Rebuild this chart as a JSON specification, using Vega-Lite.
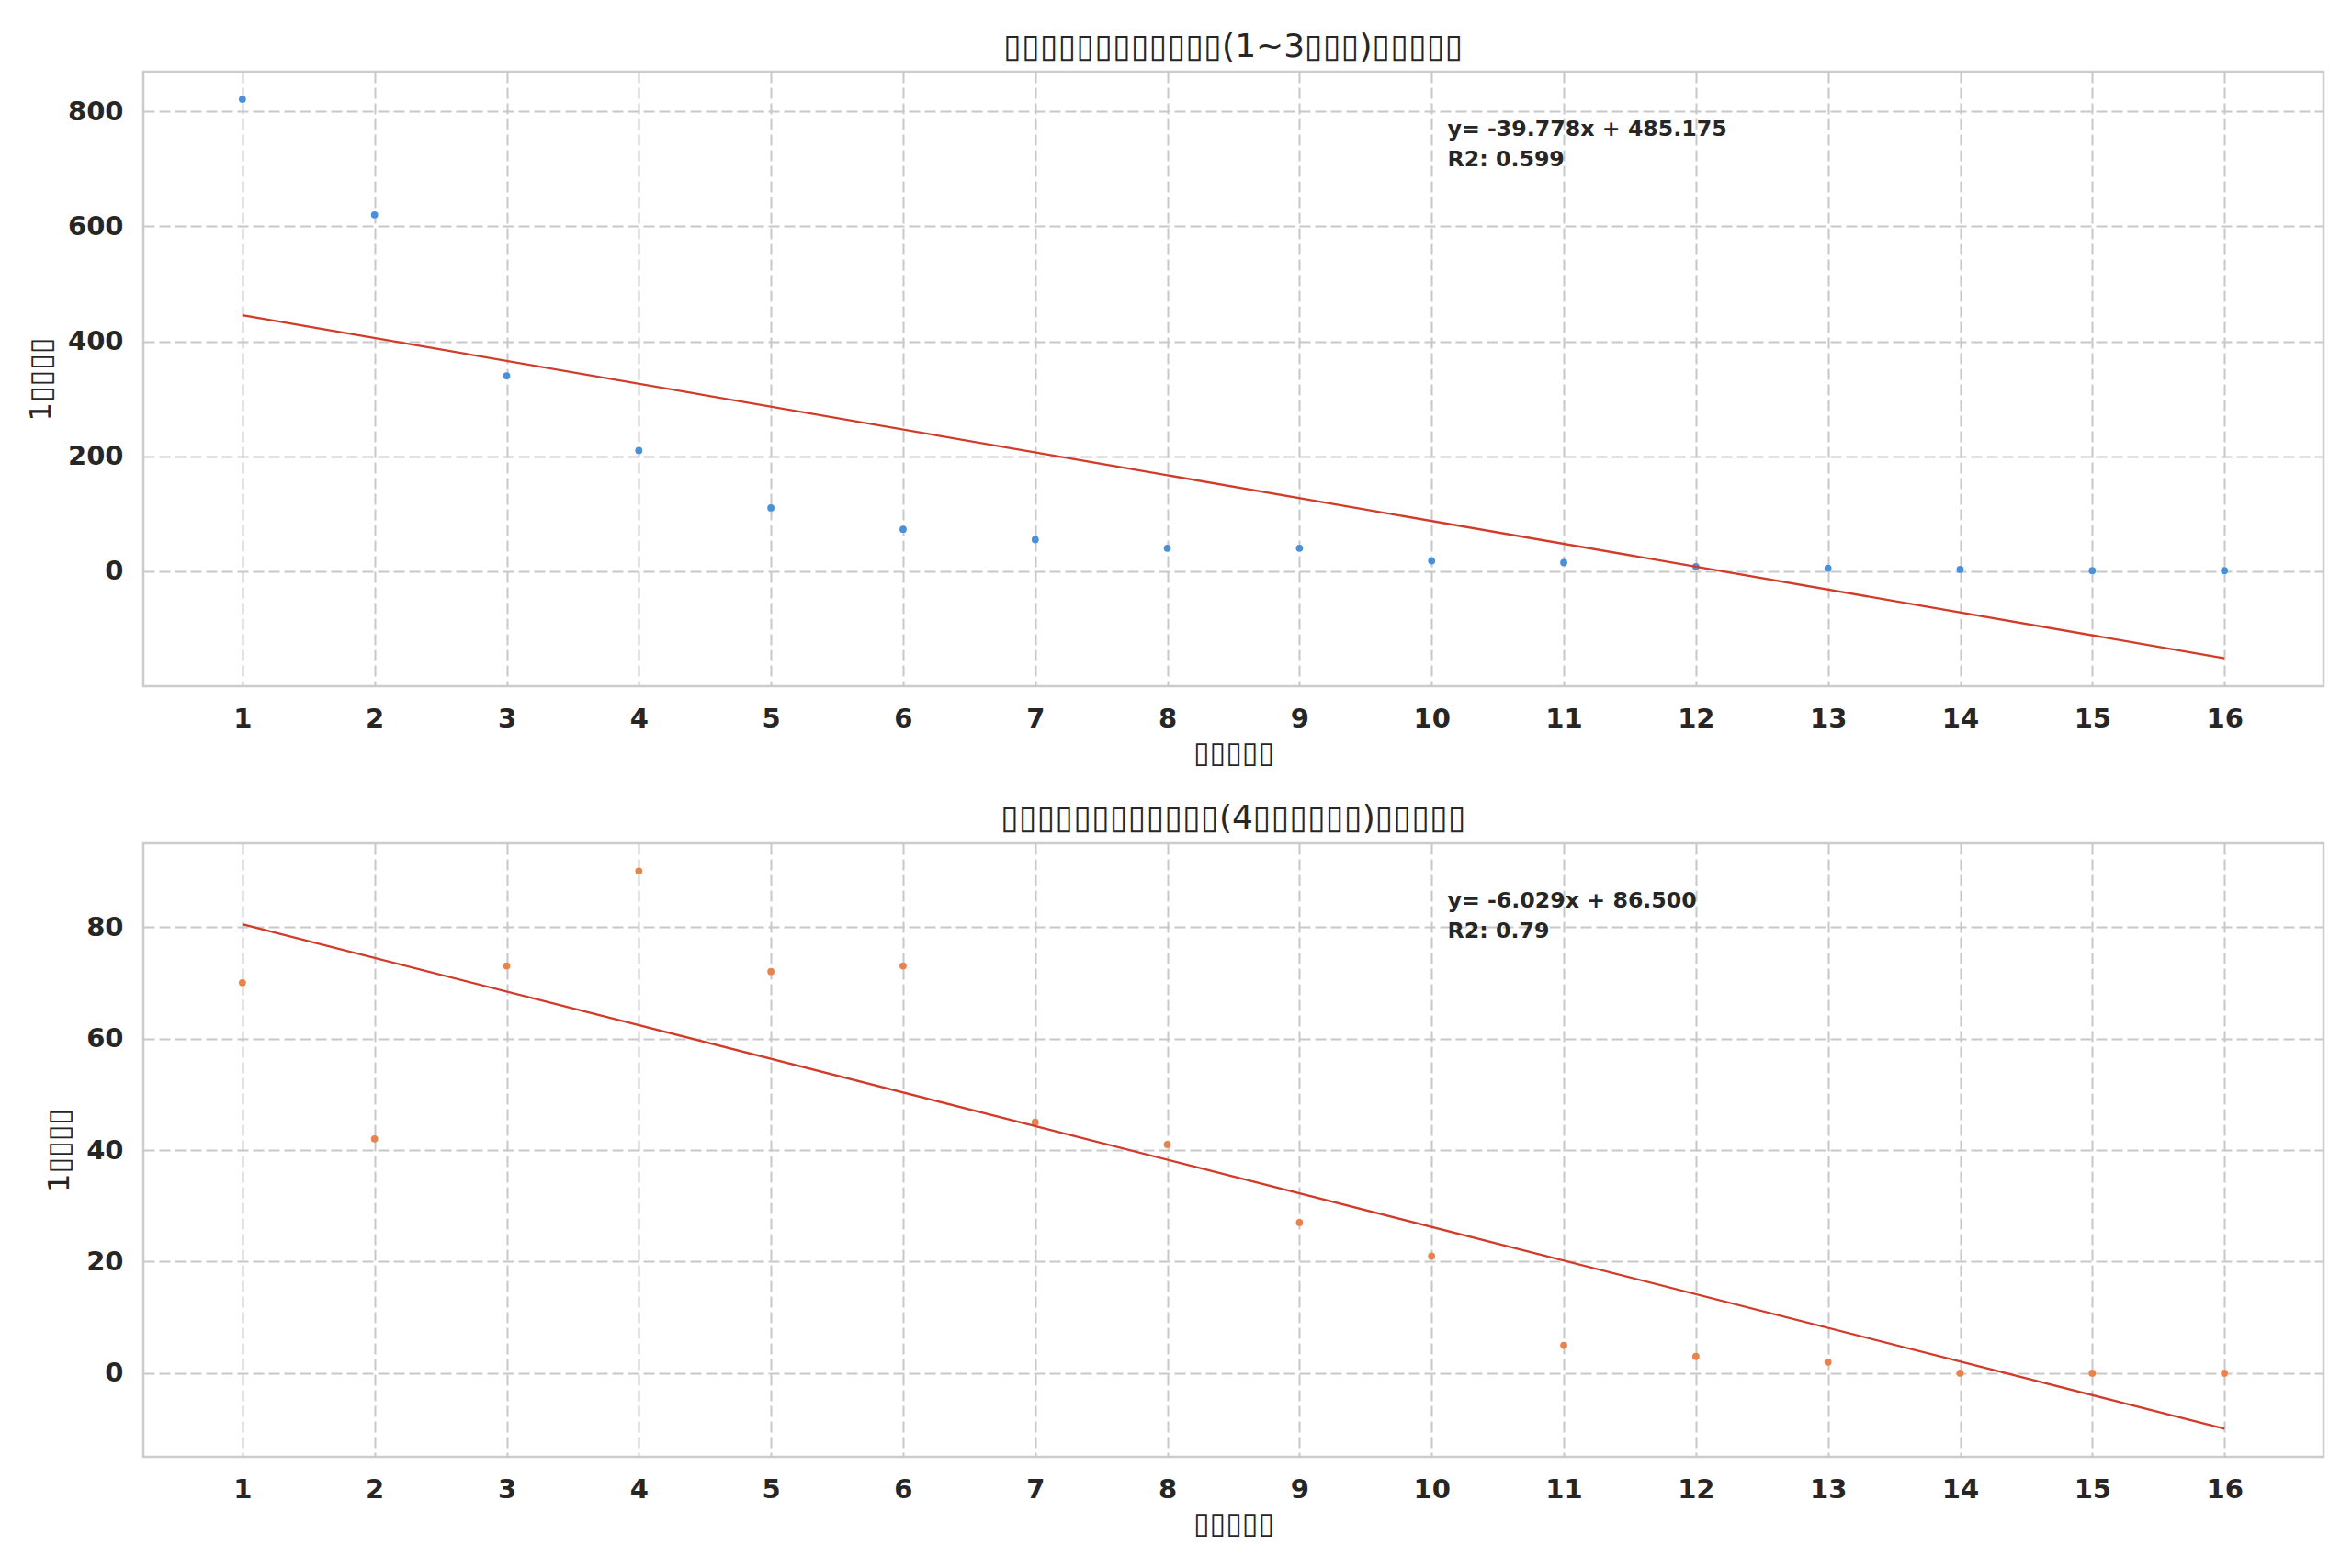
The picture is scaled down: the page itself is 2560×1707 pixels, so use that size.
{
  "$schema": "https://vega.github.io/schema/vega-lite/v6.json",
  "background": "white",
  "padding": {"left": 27, "top": 31, "right": 20, "bottom": 10},
  "spacing": 34,
  "datasets": {
    "short": [
      {"day": 1, "count": 821}, {"day": 2, "count": 620}, {"day": 3, "count": 340},
      {"day": 4, "count": 210}, {"day": 5, "count": 110}, {"day": 6, "count": 73},
      {"day": 7, "count": 55}, {"day": 8, "count": 40}, {"day": 9, "count": 40},
      {"day": 10, "count": 18}, {"day": 11, "count": 15}, {"day": 12, "count": 8},
      {"day": 13, "count": 5}, {"day": 14, "count": 3}, {"day": 15, "count": 1},
      {"day": 16, "count": 1}
    ],
    "long": [
      {"day": 1, "count": 70}, {"day": 2, "count": 42}, {"day": 3, "count": 73},
      {"day": 4, "count": 90}, {"day": 5, "count": 72}, {"day": 6, "count": 73},
      {"day": 7, "count": 45}, {"day": 8, "count": 41}, {"day": 9, "count": 27},
      {"day": 10, "count": 21}, {"day": 11, "count": 5}, {"day": 12, "count": 3},
      {"day": 13, "count": 2}, {"day": 14, "count": 0}, {"day": 15, "count": 0},
      {"day": 16, "count": 0}
    ],
    "fitShort": [{"day": 1, "count": 445.4}, {"day": 16, "count": -151.3}],
    "fitLong": [{"day": 1, "count": 80.47}, {"day": 16, "count": -9.96}]
  },
  "config": {
    "font": "DejaVu Sans",
    "view": {"stroke": "#cccccc", "strokeWidth": 2.5},
    "axis": {
      "domain": false, "ticks": false, "grid": true,
      "gridColor": "#c8c8c8", "gridDash": [12, 5], "gridWidth": 2,
      "labelFont": "DejaVu Sans", "labelFontSize": 29, "labelFontWeight": "bold", "labelColor": "#262626",
      "titleFont": "DejaVu Sans", "titleFontSize": 32, "titleFontWeight": "normal", "titleColor": "#262626"
    },
    "axisX": {"labelPadding": 21, "titlePadding": 7},
    "axisY": {"labelPadding": 22, "titlePadding": 12},
    "title": {"fontSize": 36, "fontWeight": "normal", "color": "#262626", "offset": 8, "font": "DejaVu Sans"}
  },
  "vconcat": [
    {
      "title": "▯▯▯▯▯▯▯▯▯▯▯▯(1~3▯▯▯)▯▯▯▯▯",
      "width": 2373, "height": 669,
      "layer": [
        {
          "data": {"name": "short"},
          "mark": {"type": "circle", "size": 60, "color": "#4a90d9", "opacity": 1},
          "encoding": {
            "x": {"field": "day", "type": "quantitative", "scale": {"domain": [0.25, 16.75], "nice": false, "zero": false},
                  "axis": {"title": "▯▯▯▯▯", "format": "d", "values": [1,2,3,4,5,6,7,8,9,10,11,12,13,14,15,16]}},
            "y": {"field": "count", "type": "quantitative", "scale": {"domain": [-200, 869], "nice": false},
                  "axis": {"title": "1▯▯▯▯", "values": [0, 200, 400, 600, 800]}}
          }
        },
        {
          "data": {"name": "fitShort"},
          "mark": {"type": "line", "color": "#d13b2a", "strokeWidth": 2.3},
          "encoding": {
            "x": {"field": "day", "type": "quantitative"},
            "y": {"field": "count", "type": "quantitative"}
          }
        },
        {
          "data": {"values": [{}]},
          "mark": {"type": "text", "align": "left", "baseline": "alphabetic", "fontSize": 23.7, "fontWeight": "bold", "color": "#262626", "lineHeight": 33,
                   "text": ["y= -39.778x + 485.175", "R2: 0.599"]},
          "encoding": {
            "x": {"datum": 10.12, "type": "quantitative"},
            "y": {"datum": 757, "type": "quantitative"}
          }
        }
      ]
    },
    {
      "title": "▯▯▯▯▯▯▯▯▯▯▯▯(4▯▯▯▯▯▯)▯▯▯▯▯",
      "width": 2373, "height": 668,
      "layer": [
        {
          "data": {"name": "long"},
          "mark": {"type": "circle", "size": 60, "color": "#e8834e", "opacity": 1},
          "encoding": {
            "x": {"field": "day", "type": "quantitative", "scale": {"domain": [0.25, 16.75], "nice": false, "zero": false},
                  "axis": {"title": "▯▯▯▯▯", "format": "d", "values": [1,2,3,4,5,6,7,8,9,10,11,12,13,14,15,16]}},
            "y": {"field": "count", "type": "quantitative", "scale": {"domain": [-15, 95], "nice": false},
                  "axis": {"title": "1▯▯▯▯", "values": [0, 20, 40, 60, 80]}}
          }
        },
        {
          "data": {"name": "fitLong"},
          "mark": {"type": "line", "color": "#d13b2a", "strokeWidth": 2.3},
          "encoding": {
            "x": {"field": "day", "type": "quantitative"},
            "y": {"field": "count", "type": "quantitative"}
          }
        },
        {
          "data": {"values": [{}]},
          "mark": {"type": "text", "align": "left", "baseline": "alphabetic", "fontSize": 23.7, "fontWeight": "bold", "color": "#262626", "lineHeight": 33,
                   "text": ["y= -6.029x + 86.500", "R2: 0.79"]},
          "encoding": {
            "x": {"datum": 10.12, "type": "quantitative"},
            "y": {"datum": 83.5, "type": "quantitative"}
          }
        }
      ]
    }
  ]
}
